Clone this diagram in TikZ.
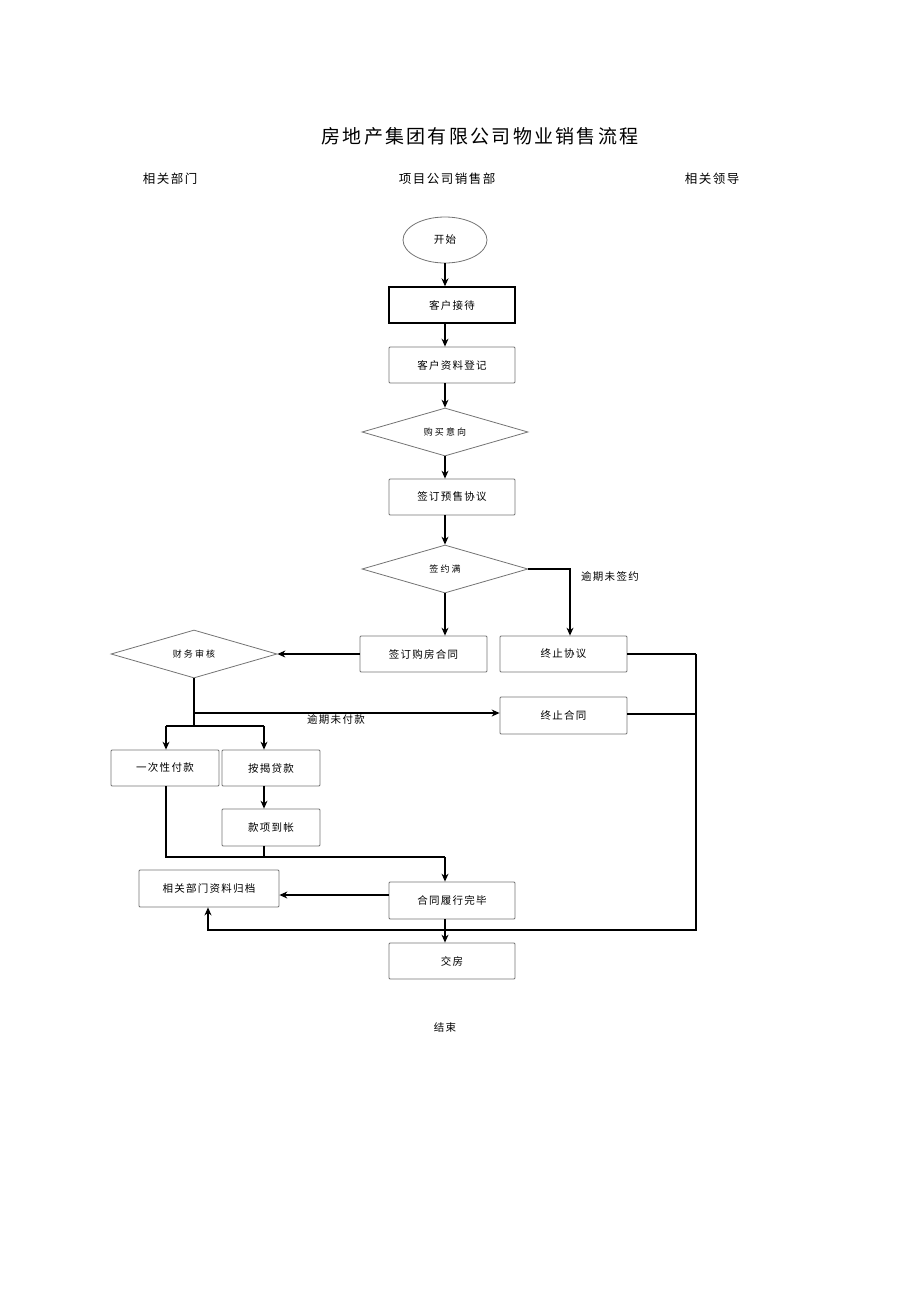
\documentclass[tikz,border=0pt]{standalone}
\usepackage{fontspec}
\setmainfont{Noto Sans CJK SC}
\newfontfamily\spaced[LetterSpace=12]{Noto Sans CJK SC}
\usetikzlibrary{shapes.geometric,arrows.meta}
\begin{document}
\begin{tikzpicture}[x=1pt,y=-1pt,
  box/.style={draw=black!55, line width=0.8pt, rounded corners=1pt, minimum width=126pt, minimum height=36pt, inner sep=0pt, font=\spaced\fontsize{10.5}{12}\selectfont},
  dia/.style={diamond, draw=black!55, line width=0.8pt, minimum width=166pt, minimum height=48pt, inner sep=0pt, aspect=3.4, font=\fontsize{9}{10}\selectfont},
  arr/.style={line width=1.1pt, -{Stealth[length=8pt,width=7pt]}},
  ln/.style={line width=1.1pt},
  lab/.style={font=\spaced\fontsize{10.5}{12}\selectfont},
  hd/.style={font=\spaced\fontsize{12.5}{14}\selectfont}]
\useasboundingbox (0,0) rectangle (920,1301);
\node[font=\spaced\fontsize{19}{22}\selectfont] (title) at (480,136) {房地产集团有限公司物业销售流程};
\node[hd] (h1) at (170,179) {相关部门};
\node[hd] (h2) at (447,179) {项目公司销售部};
\node[hd] (h3) at (712,179) {相关领导};

\node[ellipse, draw=black!55, line width=0.8pt, minimum width=84pt, minimum height=46pt, inner sep=0pt, font=\spaced\fontsize{10.5}{12}\selectfont] (start) at (445,240) {开始};
\node[box, draw=black, line width=1.4pt, rounded corners=0pt] (b1) at (452,305) {客户接待};
\node[box] (b2) at (452,365) {客户资料登记};
\node[dia] (d1) at (445,432) {购 买 意 向};
\node[box] (b3) at (452,497) {签订预售协议};
\node[dia] (d2) at (445,569) {签 约 满};
\node[box, minimum width=127pt] (b4) at (423.5,654) {签订购房合同};
\node[box, minimum width=127pt] (b5) at (563.5,654) {终止协议};
\node[dia] (d3) at (194,654) {财 务 审 核};
\node[box, minimum width=127pt, minimum height=37pt] (b6) at (563.5,715.5) {终止合同};
\node[box, minimum width=108pt] (b7) at (165,768) {一次性付款};
\node[box, minimum width=98pt] (b8) at (271,768) {按揭贷款};
\node[box, minimum width=98pt, minimum height=37pt] (b9) at (271,827.5) {款项到帐};
\node[box, minimum width=140pt, minimum height=37pt] (b10) at (209,888.5) {相关部门资料归档};
\node[box, minimum height=37pt] (b11) at (452,900.5) {合同履行完毕};
\node[box] (b12) at (452,961) {交房};
\node[lab] (end) at (445,1027) {结束};

\coordinate (c1) at (570,569);
\coordinate (c2) at (194,713);
\coordinate (c3) at (194,726);
\coordinate (c4) at (166,726);
\coordinate (c5) at (264,726);
\coordinate (c6) at (166,857);
\coordinate (c7) at (445,857);
\coordinate (c8) at (264,857);
\coordinate (c9) at (696,654);
\coordinate (c10) at (696,714);
\coordinate (c11) at (696,930);
\coordinate (c12) at (208,930);

\draw[arr] (start.south) -- (b1.north -| start);
\draw[arr] (b1.south -| start) -- (b2.north -| start);
\draw[arr] (b2.south -| start) -- (d1.north);
\draw[arr] (d1.south) -- (b3.north -| d1);
\draw[arr] (b3.south -| d1) -- (d2.north);
\draw[arr] (d2.south) -- (b4.north -| d2);
\draw[arr] (d2.east) -- (c1) -- (b5.north -| c1);
\node[lab] (l1) at (610,576) {逾期未签约};
\draw[arr] (b4.west) -- (d3.east);
\draw[ln] (d3.south) -- (c3);
\draw[arr] (c2) -- (b6.west |- c2);
\node[lab] (l2) at (336,720) {逾期未付款};
\draw[ln] (c4) -- (c5);
\draw[arr] (c4) -- (b7.north -| c4);
\draw[arr] (c5) -- (b8.north -| c5);
\draw[arr] (b8.south -| c5) -- (b9.north -| c5);
\draw[ln] (b7.south -| c4) -- (c6) -- (c7);
\draw[ln] (b9.south -| c5) -- (c8);
\draw[arr] (c7) -- (b11.north -| c7);
\draw[arr] (b11.west |- 0,895) -- (b10.east |- 0,895);
\draw[arr] (b11.south -| c7) -- (b12.north -| c7);
\draw[ln] (b5.east) -- (c9);
\draw[ln] (b6.east |- c10) -- (c10);
\draw[arr] (c9) -- (c11) -- (c12) -- (b10.south -| c12);
\end{tikzpicture}
\end{document}
